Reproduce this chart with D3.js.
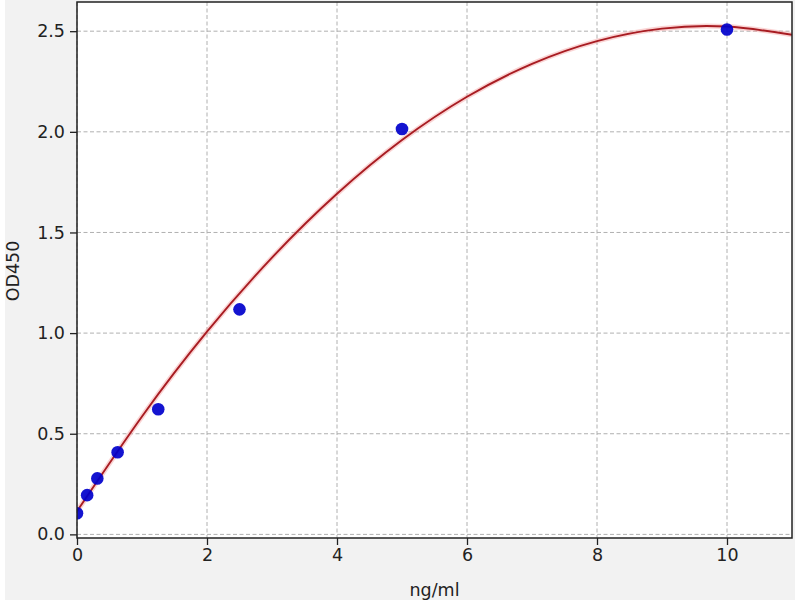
<!DOCTYPE html>
<html>
<head>
<meta charset="utf-8">
<script src="https://cdn.jsdelivr.net/npm/d3@7"></script>
<style>
  html, body { margin: 0; padding: 0; background: #fff; }
  svg { display: block; font-family: "DejaVu Sans", sans-serif; }
</style>
</head>
<body>
<svg id="chart" width="800" height="600"></svg>
<script>
// standard points (concentration vs OD)
const concentrations = [0, 0.156, 0.3125, 0.625, 1.25, 2.5, 5, 10];
const odValues = [0.105, 0.195, 0.278, 0.408, 0.622, 1.118, 2.014, 2.508];

// fitted curve
const curveX = [0, 1, 2, 3, 4, 5, 6, 7, 8, 9, 10, 11];
const curveY = [0.115, 0.586, 1.007, 1.375, 1.692, 1.959, 2.174, 2.338, 2.451, 2.513, 2.523, 2.482];

const xTicks = [0, 2, 4, 6, 8, 10];
const yTicks = [0, 0.5, 1.0, 1.5, 2.0, 2.5];

const svg = d3.select("#chart");
const plot = { left: 77, right: 792, top: 2, bottom: 538 };

// figure background
svg.append("rect")
  .attr("x", 5).attr("y", 0)
  .attr("width", 790).attr("height", 600)
  .attr("fill", "#f2f2f2");

svg.append("rect")
  .attr("x", plot.left).attr("y", plot.top)
  .attr("width", plot.right - plot.left).attr("height", plot.bottom - plot.top)
  .attr("fill", "#fff");

const x = d3.scaleLinear().domain([0, 11]).range([plot.left, plot.right]);
const y = d3.scaleLinear().domain([-0.018, 2.645]).range([plot.bottom, plot.top]);

svg.append("clipPath").attr("id", "clip")
  .append("rect")
  .attr("x", plot.left).attr("y", plot.top)
  .attr("width", plot.right - plot.left).attr("height", plot.bottom - plot.top);

// grid
const grid = svg.append("g")
  .attr("stroke", "#b0b0b0")
  .attr("stroke-width", 1)
  .attr("stroke-dasharray", "4,2.5");

grid.selectAll("line.gx").data(xTicks).enter().append("line")
  .attr("x1", d => x(d)).attr("x2", d => x(d))
  .attr("y1", plot.top).attr("y2", plot.bottom);

grid.selectAll("line.gy").data(yTicks).enter().append("line")
  .attr("x1", plot.left).attr("x2", plot.right)
  .attr("y1", d => y(d)).attr("y2", d => y(d));

const g = svg.append("g").attr("clip-path", "url(#clip)");

const line = d3.line()
  .x((d, i) => x(curveX[i]))
  .y(d => y(d))
  .curve(d3.curveNatural);

// soft halo under the fit line
g.append("path")
  .datum(curveY)
  .attr("d", line)
  .attr("fill", "none")
  .attr("stroke", "#f4a0a0")
  .attr("stroke-opacity", 0.45)
  .attr("stroke-width", 5);

g.append("path")
  .datum(curveY)
  .attr("d", line)
  .attr("fill", "none")
  .attr("stroke", "#a81c22")
  .attr("stroke-width", 1.9);

g.selectAll("circle")
  .data(concentrations)
  .enter().append("circle")
  .attr("cx", d => x(d))
  .attr("cy", (d, i) => y(odValues[i]))
  .attr("r", 6.3)
  .attr("fill", "#0000cc")
  .attr("fill-opacity", 0.92);

// axes
const xAxis = d3.axisBottom(x).tickValues(xTicks).tickSize(7).tickPadding(4)
  .tickFormat(d3.format("d"));
const yAxis = d3.axisLeft(y).tickValues(yTicks).tickSize(7).tickPadding(5)
  .tickFormat(d3.format(".1f"));

const ax = svg.append("g")
  .attr("transform", `translate(0,${plot.bottom})`)
  .call(xAxis);
const ay = svg.append("g")
  .attr("transform", `translate(${plot.left},0)`)
  .call(yAxis);

[ax, ay].forEach(a => {
  a.select(".domain").remove();
  a.selectAll(".tick line").attr("stroke", "#222").attr("stroke-width", 1.3);
  a.selectAll(".tick text")
    .attr("fill", "#222")
    .style("font-size", "17.5px")
    .style("font-family", "DejaVu Sans, sans-serif");
});

// frame
svg.append("rect")
  .attr("x", plot.left).attr("y", plot.top)
  .attr("width", plot.right - plot.left).attr("height", plot.bottom - plot.top)
  .attr("fill", "none")
  .attr("stroke", "#222")
  .attr("stroke-width", 1.5);

svg.append("text")
  .attr("x", (plot.left + plot.right) / 2)
  .attr("y", 596)
  .attr("text-anchor", "middle")
  .attr("fill", "#222")
  .style("font-size", "17.5px")
  .text("ng/ml");

svg.append("text")
  .attr("transform", "translate(19,271) rotate(-90)")
  .attr("text-anchor", "middle")
  .attr("fill", "#222")
  .style("font-size", "17.5px")
  .text("OD450");
</script>
</body>
</html>
